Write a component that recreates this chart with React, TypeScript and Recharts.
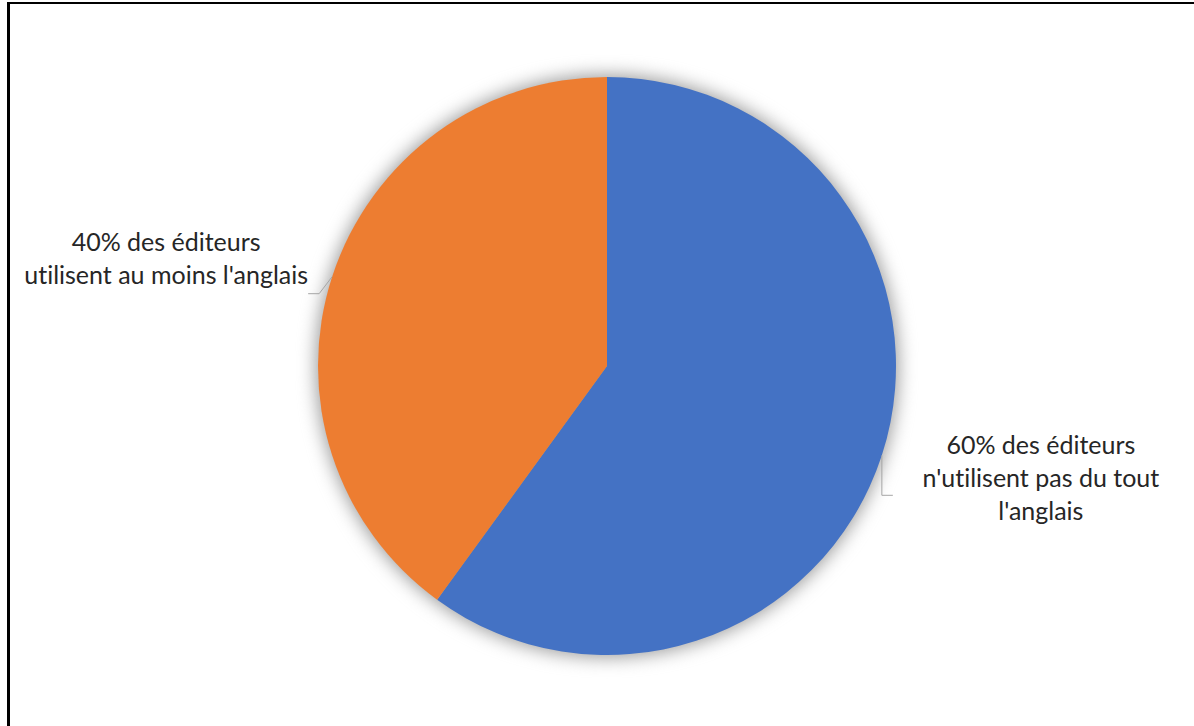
import { PieChart, Pie, Cell } from 'recharts'

const categories = [
  "60% des éditeurs n'utilisent pas du tout l'anglais",
  "40% des éditeurs utilisent au moins l'anglais",
]
const shares = [60, 40]
const labelLines = [
  ['60% des éditeurs', "n'utilisent pas du tout", "l'anglais"],
  ['40% des éditeurs', "utilisent au moins l'anglais"],
]

const COLORS = ['#4472C4', '#ED7D31']
const RAD = Math.PI / 180
const FONT = 'Lato, "Open Sans", sans-serif'

const data = categories.map((name, i) => ({ name, value: shares[i] }))
const total = [{ name: 'total', value: shares.reduce((a, b) => a + b, 0) }]

// leader line + text placement relative to the slice edge point
const LABEL_LAYOUT = [
  { line: [[0, 40], [11, 40]], tx: 159, ty: 22 },
  { line: [[-13, 17], [-24, 17]], tx: -166, ty: -19 },
]

function renderLabel(props: any) {
  const { cx, cy, midAngle, outerRadius, index } = props
  const x0 = cx + outerRadius * Math.cos(-midAngle * RAD)
  const y0 = cy + outerRadius * Math.sin(-midAngle * RAD)
  const cfg = LABEL_LAYOUT[index]
  const lines = labelLines[index]
  const lh = 33
  const d = `M${x0},${y0}` + cfg.line.map(p => ` L${x0 + p[0]},${y0 + p[1]}`).join('')
  const startY = y0 + cfg.ty - ((lines.length - 1) * lh) / 2
  return (
    <g key={`lbl-${index}`}>
      <path d={d} stroke="#a6a6a6" strokeWidth={1} fill="none" />
      <text
        x={x0 + cfg.tx}
        y={startY}
        textAnchor="middle"
        dominantBaseline="central"
        fill="#262626"
        fontSize={25}
        fontFamily={FONT}
        style={{ fontVariantLigatures: 'none' }}
      >
        {lines.map((l, i) => (
          <tspan key={i} x={x0 + cfg.tx} y={startY + i * lh}>{l}</tspan>
        ))}
      </text>
    </g>
  )
}

export default function App() {
  return (
    <div
      style={{
        position: 'absolute',
        left: 7,
        top: 2,
        width: 1200,
        height: 740,
        borderLeft: '3px solid #000',
        borderTop: '2px solid #000',
        background: '#fff',
      }}
    >
      <style>{'.pie-shadow path { filter: blur(9px); }'}</style>
      <PieChart width={1190} height={730} margin={{ top: 0, right: 0, bottom: 0, left: 0 }}>
        <Pie
          className="pie-shadow"
          data={total}
          dataKey="value"
          cx={597}
          cy={362}
          outerRadius={291}
          startAngle={90}
          endAngle={-270}
          fill="#9a9a9a"
          stroke="none"
          isAnimationActive={false}
          label={false}
          labelLine={false}
        />
        <Pie
          data={data}
          dataKey="value"
          nameKey="name"
          cx={597}
          cy={362}
          outerRadius={289}
          startAngle={90}
          endAngle={-270}
          stroke="none"
          isAnimationActive={false}
          label={renderLabel}
          labelLine={false}
        >
          {data.map((d, i) => (
            <Cell key={d.name} fill={COLORS[i]} />
          ))}
        </Pie>
      </PieChart>
    </div>
  )
}
